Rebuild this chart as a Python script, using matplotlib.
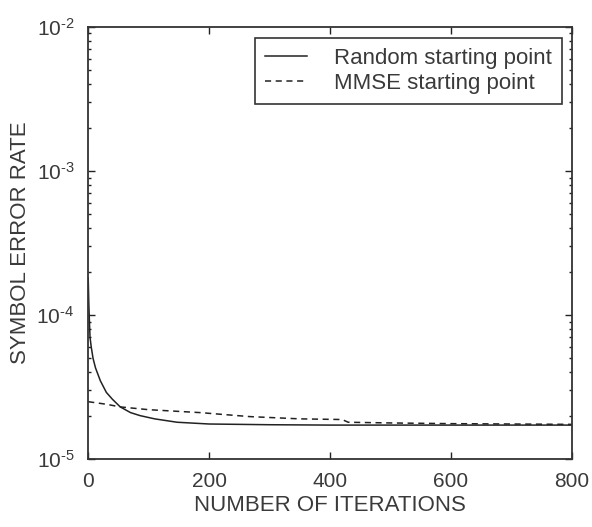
import numpy as np
import matplotlib
matplotlib.use('Agg')
import matplotlib.pyplot as plt
from matplotlib.ticker import LogLocator, FixedLocator

plt.rcParams['font.family'] = ['Liberation Sans', 'DejaVu Sans']
plt.rcParams['mathtext.fontset'] = 'custom'
plt.rcParams['mathtext.rm'] = 'Liberation Sans'
plt.rcParams['mathtext.default'] = 'regular'

# random starting point curve
iters_rand = [0, 1, 2, 3, 5, 8, 12, 20, 30, 40, 53, 70, 86, 110, 147, 200, 300, 400, 500, 600, 700, 800]
ser_rand = [1.8e-4, 1.2e-4, 9e-5, 7e-5, 6e-5, 5e-5, 4.3e-5, 3.5e-5, 2.9e-5, 2.6e-5, 2.3e-5,
            2.1e-5, 2.0e-5, 1.9e-5, 1.8e-5, 1.75e-5, 1.73e-5, 1.72e-5, 1.72e-5, 1.72e-5, 1.72e-5, 1.72e-5]

# MMSE starting point curve
iters_mmse = [0, 30, 53, 100, 185, 267, 350, 420, 430, 500, 600, 700, 800]
ser_mmse = [2.5e-5, 2.4e-5, 2.3e-5, 2.2e-5, 2.1e-5, 1.97e-5, 1.9e-5, 1.88e-5, 1.8e-5,
            1.78e-5, 1.76e-5, 1.75e-5, 1.74e-5]

xticks = [0, 200, 400, 600, 800]
yticks = [1e-5, 1e-4, 1e-3, 1e-2]
ytick_labels = [r'$10^{\text{-}5}$', r'$10^{\text{-}4}$', r'$10^{\text{-}3}$', r'$10^{\text{-}2}$']
txt = '#3a3a3a'

fig = plt.figure(figsize=(5.92, 5.27), dpi=100)
ax = fig.add_axes([0.149, 0.129, 0.817, 0.82])

ax.semilogy(iters_rand, ser_rand, color='#222222', lw=1.1, label='Random starting point')
ax.semilogy(iters_mmse, ser_mmse, color='#222222', lw=1.1, ls=(0, (4, 3)), label='MMSE starting point')

ax.set_xlim(0, 800)
ax.set_ylim(1e-5, 1e-2)
ax.xaxis.set_major_locator(FixedLocator(xticks))
ax.yaxis.set_minor_locator(LogLocator(base=10, subs=np.arange(2, 10), numticks=10))
ax.set_yticks(yticks)
ax.set_yticklabels(ytick_labels)

ax.tick_params(which='both', direction='in', top=True, right=True, colors='#222222',
               labelcolor=txt, labelsize=15)
ax.tick_params(axis='x', which='major', pad=9)
ax.tick_params(axis='y', which='major', pad=10)
ax.tick_params(which='major', length=5, width=1)
ax.tick_params(which='minor', length=2.5, width=1)
for s in ax.spines.values():
    s.set_linewidth(1.3)
    s.set_color('#333333')

ax.set_xlabel('NUMBER OF ITERATIONS', fontsize=16, color=txt, labelpad=3)
ax.set_ylabel('SYMBOL ERROR RATE', fontsize=16, color=txt, labelpad=4)

leg = ax.legend(loc='upper right', fontsize=16, fancybox=False, framealpha=1,
                edgecolor='#333333', handlelength=1.9, handletextpad=1.2, borderpad=0.45,
                labelspacing=0.2, borderaxespad=0, bbox_to_anchor=(0.979, 0.975))
leg.get_frame().set_linewidth(1.2)
for t in leg.get_texts():
    t.set_color(txt)

fig.savefig('out.png', dpi=100)
